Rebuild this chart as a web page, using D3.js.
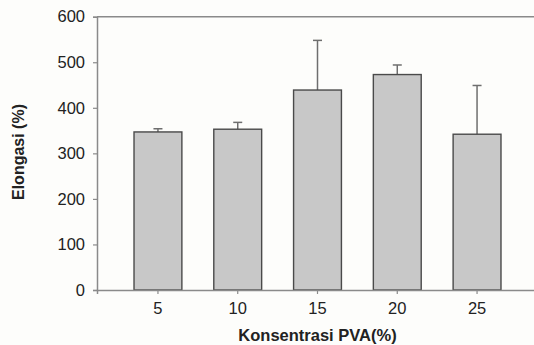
<!DOCTYPE html>
<html>
<head>
<meta charset="utf-8">
<script src="https://cdn.jsdelivr.net/npm/d3@7"></script>
<style>
  body { margin: 0; background: #fdfdfb; }
  text { font-family: Arial, 'Liberation Sans', sans-serif; fill: #222; }
</style>
</head>
<body>
<svg id="chart" width="534" height="345"></svg>
<script>
const categories = ['5', '10', '15', '20', '25'];
const values = [347, 353, 439, 473, 342];
const errors = [7, 15, 109, 21, 107];
const yTicks = [0, 100, 200, 300, 400, 500, 600];

let svg = d3.select('#chart'),
  width = +svg.attr('width'),
  height = +svg.attr('height');

const plotLeft = 97, plotTop = 16.7, plotBottom = 290, plotRight = 538;

let x = d3.scaleBand()
  .domain(categories)
  .range([plotLeft, plotRight])
  .paddingInner(0.4)
  .paddingOuter(0.464);

let y = d3.scaleLinear()
  .domain([0, 600])
  .range([plotBottom, plotTop]);

let data = categories.map((c, i) => ({ cat: c, value: values[i], err: errors[i] }));

// error bars (drawn first so the bar covers the stem base)
let err = svg.append('g')
  .attr('stroke', '#6e6e6e')
  .attr('stroke-width', 1.5);

err.selectAll('line.stem')
  .data(data)
  .enter()
  .append('line')
  .attr('class', 'stem')
  .attr('x1', d => x(d.cat) + x.bandwidth() / 2)
  .attr('x2', d => x(d.cat) + x.bandwidth() / 2)
  .attr('y1', d => y(d.value))
  .attr('y2', d => y(d.value + d.err));

err.selectAll('line.cap')
  .data(data)
  .enter()
  .append('line')
  .attr('class', 'cap')
  .attr('x1', d => x(d.cat) + x.bandwidth() / 2 - 4.5)
  .attr('x2', d => x(d.cat) + x.bandwidth() / 2 + 4.5)
  .attr('y1', d => y(d.value + d.err))
  .attr('y2', d => y(d.value + d.err));

svg.append('g')
  .selectAll('rect')
  .data(data)
  .enter()
  .append('rect')
  .attr('x', d => x(d.cat))
  .attr('width', x.bandwidth())
  .attr('y', d => y(d.value))
  .attr('height', d => y(0) - y(d.value))
  .attr('fill', '#c8c8c8')
  .attr('stroke', '#4a4a4a')
  .attr('stroke-width', 1.4);

// frame: top line
svg.append('line')
  .attr('x1', plotLeft).attr('x2', plotRight)
  .attr('y1', plotTop).attr('y2', plotTop)
  .attr('stroke', '#8a8a8a')
  .attr('stroke-width', 1.5);

let yAxis = svg.append('g')
  .attr('transform', `translate(${plotLeft},0)`)
  .call(d3.axisLeft(y).tickValues(yTicks).tickSize(4).tickPadding(8));

let xAxis = svg.append('g')
  .attr('transform', `translate(0,${plotBottom})`)
  .call(d3.axisBottom(x).tickSize(4).tickPadding(8));

for (let ax of [xAxis, yAxis]) {
  ax.select('.domain').attr('stroke', '#8a8a8a').attr('stroke-width', 1.5);
  ax.selectAll('.tick line').attr('stroke', '#8a8a8a').attr('stroke-width', 1.2);
  ax.selectAll('.tick text')
    .style('font-size', '16.5px')
    .style('font-family', 'Arial, "Liberation Sans", sans-serif')
    .attr('fill', '#222');
}

svg.append('text')
  .attr('text-anchor', 'middle')
  .attr('x', 317.5)
  .attr('y', 341)
  .style('font-size', '16.5px')
  .style('font-weight', 'bold')
  .text('Konsentrasi PVA(%)');

svg.append('text')
  .attr('text-anchor', 'middle')
  .attr('transform', 'translate(24,152) rotate(-90)')
  .style('font-size', '16px')
  .style('font-weight', 'bold')
  .text('Elongasi (%)');
</script>
</body>
</html>
